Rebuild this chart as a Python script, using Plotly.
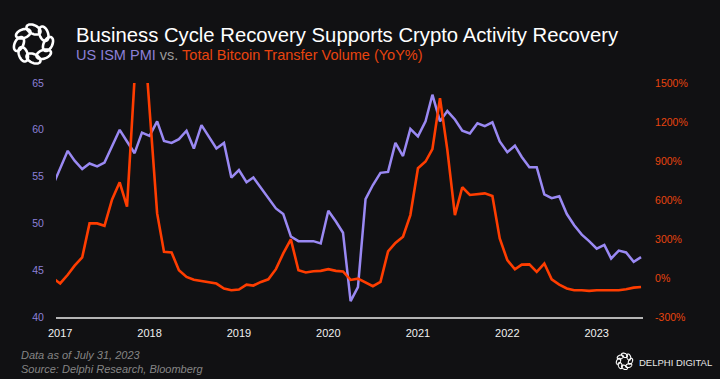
import math
import pandas as pd
import plotly.graph_objects as go

# ---------------- data (monthly, Dec 2016 .. Jul 2023) ----------------
start_month = "2016-12-01"
ism_pmi = [
    54.0,
    55.8, 57.75, 56.7, 55.8, 56.4, 56.1, 56.5, 58.3, 60.0, 58.75, 57.5, 59.7,
    59.35, 60.9, 58.8, 58.6, 59.0, 59.9, 58.0, 60.5, 59.3, 58.0, 58.6, 54.9,
    55.7, 54.4, 54.9, 53.75, 52.7, 51.6, 51.0, 48.6, 48.1, 48.1, 48.1, 47.85,
    51.35, 50.2, 49.0, 41.7, 43.2, 52.6, 54.1, 55.4, 55.5, 58.6, 57.2, 60.1,
    59.3, 60.9, 63.75, 60.9, 62.0, 61.1, 59.9, 59.6, 60.7, 60.4, 60.8, 58.75,
    57.6, 58.3, 57.1, 56.0, 56.0, 53.1, 52.7, 52.9, 51.0, 49.8, 48.8, 48.1,
    47.3, 47.7, 46.25, 47.1, 46.9, 45.9, 46.4,
]
btc_transfer_yoy = [
    0,
    -42, 25, 95, 158, 420, 420, 402, 605, 736, 549, 1540, 2100,
    1300, 497, 201, 196, 60, 8, -13, -25, -35, -43, -81, -94,
    -89, -51, -58, -30, -10, 68, 189, 297, 60, 42, 52, 55,
    68, 55, 50, -15, -5, -35, -63, -30, 205, 270, 317, 484,
    844, 896, 991, 1384, 986, 484, 698, 639, 644, 651, 631, 304,
    137, 67, 103, 105, 47, 111, -10, -51, -81, -94, -94, -99,
    -94, -94, -89, -94, -86, -74, -69,
]
dates = pd.date_range(start_month, periods=len(ism_pmi), freq="MS")

year_ticks = ["2017-01-01", "2018-01-01", "2019-01-01", "2020-01-01",
              "2021-01-01", "2022-01-01", "2023-01-01"]
year_labels = ["2017", "2018", "2019", "2020", "2021", "2022", "2023"]
pmi_ticks = [40, 45, 50, 55, 60, 65]
pct_ticks = [-300, 0, 300, 600, 900, 1200, 1500]
pct_labels = ["-300%", "0%", "300%", "600%", "900%", "1200%", "1500%"]

# ---------------- styling ----------------
W, H = 720, 379
ML, MR, MT, MB = 56, 77, 83, 62
PW, PH = W - ML - MR, H - MT - MB
BG = "#111113"
PURPLE = "#9a89f3"
PURPLE_TXT = "#8c80d8"
RED = "#ff3d00"
RED_TXT = "#e8440f"
FONT = "Liberation Sans, Arial, sans-serif"


def px(x, y):
    """pixel -> paper coordinates"""
    return (x - ML) / PW, (H - MB - y) / PH


def logo_paths(cx, cy, R, a, b, tilt, n=8, lw=2.5):
    shapes = []
    for k in range(n):
        th = 2 * math.pi * k / n
        ex, ey = cx + R * math.cos(th), cy + R * math.sin(th)
        rot = th + math.pi / 2 + tilt
        pts = []
        for j in range(41):
            t = 2 * math.pi * j / 40
            ux, uy = a * math.cos(t), b * math.sin(t)
            X = ex + ux * math.cos(rot) - uy * math.sin(rot)
            Y = ey + ux * math.sin(rot) + uy * math.cos(rot)
            pxx, pyy = px(X, Y)
            pts.append(f"{pxx:.5f},{pyy:.5f}")
        path = "M" + " L".join(pts) + " Z"
        shapes.append(dict(type="path", xref="paper", yref="paper", path=path,
                           line=dict(color="white", width=lw),
                           fillcolor="rgba(0,0,0,0)", layer="above"))
    return shapes


fig = go.Figure()
fig.add_trace(go.Scatter(x=dates, y=ism_pmi, mode="lines", name="US ISM PMI",
                         line=dict(color=PURPLE, width=2.5), yaxis="y"))
fig.add_trace(go.Scatter(x=dates, y=btc_transfer_yoy, mode="lines",
                         name="Total Bitcoin Transfer Volume (YoY%)",
                         line=dict(color=RED, width=2.6), yaxis="y2"))

shapes = []
shapes += logo_paths(33.5, 44, 14.5, 7.5, 4.3, 0.45, lw=2.6)
shapes += logo_paths(624.5, 361.3, 6.0, 3.2, 1.9, 0.45, lw=1.1)

annotations = []
tx, ty = px(74, 35)
annotations.append(dict(x=tx, y=ty, xref="paper", yref="paper", xanchor="left",
                        yanchor="middle", showarrow=False,
                        text="Business Cycle Recovery Supports Crypto Activity Recovery",
                        font=dict(family=FONT, size=20.3, color="white")))
tx, ty = px(74, 55)
annotations.append(dict(x=tx, y=ty, xref="paper", yref="paper", xanchor="left",
                        yanchor="middle", showarrow=False,
                        text=(f"<span style='color:{PURPLE_TXT}'>US ISM PMI</span>"
                              f"<span style='color:#9a9a9a'> vs. </span>"
                              f"<span style='color:{RED_TXT}'>Total Bitcoin Transfer Volume (YoY%)</span>"),
                        font=dict(family=FONT, size=14.5, color="white")))
tx, ty = px(19, 355)
annotations.append(dict(x=tx, y=ty, xref="paper", yref="paper", xanchor="left",
                        yanchor="middle", showarrow=False,
                        text="<i>Data as of July 31, 2023</i>",
                        font=dict(family=FONT, size=11, color="#858585")))
tx, ty = px(19, 369)
annotations.append(dict(x=tx, y=ty, xref="paper", yref="paper", xanchor="left",
                        yanchor="middle", showarrow=False,
                        text="<i>Source: Delphi Research, Bloomberg</i>",
                        font=dict(family=FONT, size=11, color="#858585")))
tx, ty = px(637, 362)
annotations.append(dict(x=tx, y=ty, xref="paper", yref="paper", xanchor="left",
                        yanchor="middle", showarrow=False,
                        text="DELPHI DIGITAL",
                        font=dict(family=FONT, size=9.5, color="#e8e8e8")))

fig.update_layout(
    width=W, height=H,
    margin=dict(l=ML, r=MR, t=MT, b=MB, pad=0),
    paper_bgcolor=BG, plot_bgcolor=BG,
    showlegend=False,
    font=dict(family=FONT, size=11, color="white"),
    xaxis=dict(type="date", range=["2016-12-15", "2023-07-09"],
               tickvals=year_ticks, ticktext=year_labels,
               showgrid=False, zeroline=False,
               showline=True, linecolor="#b5b5b5", linewidth=1.5,
               ticks="outside", ticklen=5, tickcolor="rgba(0,0,0,0)",
               tickfont=dict(family=FONT, size=11, color="#f0f0f0")),
    yaxis=dict(range=[40, 65], tickvals=pmi_ticks, showgrid=False, zeroline=False,
               showline=False, ticks="outside", ticklen=9, tickcolor="rgba(0,0,0,0)",
               tickfont=dict(family=FONT, size=10.5, color=PURPLE_TXT)),
    yaxis2=dict(range=[-300, 1500], tickvals=pct_ticks, ticktext=pct_labels,
                overlaying="y", side="right", showgrid=False, zeroline=False,
                showline=False, ticks="outside", ticklen=9,
                tickcolor="rgba(0,0,0,0)",
                tickfont=dict(family=FONT, size=10.5, color=RED_TXT)),
    shapes=shapes,
    annotations=annotations,
)

fig.write_html(
    "out.html",
    config={"displayModeBar": False},
    post_script="document.body.style.margin='0';document.body.style.background='" + BG + "';",
)
